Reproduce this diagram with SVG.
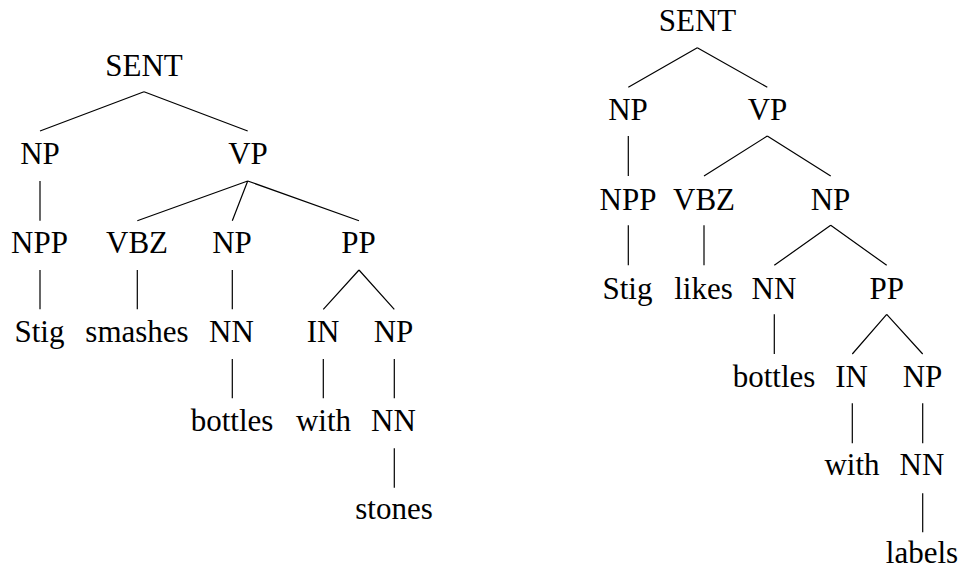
<svg xmlns="http://www.w3.org/2000/svg" width="960" height="569" viewBox="0 0 960 569">
  <style>
    .lbl { font-size: 31px; fill: #000; text-anchor: middle; }
    .edge { stroke: #000; stroke-width: 1.2; fill: none; stroke-linecap: butt; }
  </style>
  <rect width="960" height="569" fill="#fff"/>

  <g font-family="Liberation Serif, DejaVu Serif, serif">
  <!-- Tree 1: Stig smashes bottles with stones -->
  <g id="t1-connectors">
    <path class="edge" d="M144,91.7 L40,131 M144,91.7 L247.7,131"/>
    <path class="edge" d="M40,181 L40,220.7"/>
    <path class="edge" d="M247.7,181 L137.3,220.7 M247.7,181 L232.3,220.7 M247.7,181 L359,220.7"/>
    <path class="edge" d="M40,270 L40,309.3 M137.3,270 L137.3,309.3 M232.3,270 L232.3,309.3"/>
    <path class="edge" d="M359,270 L323.3,309.3 M359,270 L394.3,309.3"/>
    <path class="edge" d="M232.3,359 L232.3,398.3 M323.3,359 L323.3,398.3 M394.3,359 L394.3,398.3"/>
    <path class="edge" d="M394.3,448.3 L394.3,487.7"/>
  </g>
  <g id="t1-sent"><text class="lbl" x="144" y="75.7">SENT</text></g>
  <g id="t1-np"><text class="lbl" x="40" y="164.3">NP</text></g>
  <g id="t1-vp"><text class="lbl" x="248" y="164.3">VP</text></g>
  <g id="t1-npp"><text class="lbl" x="39.5" y="252.7">NPP</text></g>
  <g id="t1-vbz"><text class="lbl" x="137" y="252.7">VBZ</text></g>
  <g id="t1-np2"><text class="lbl" x="232" y="252.7">NP</text></g>
  <g id="t1-pp"><text class="lbl" x="358.5" y="252.7">PP</text></g>
  <g id="t1-stig"><text class="lbl" x="39.5" y="342">Stig</text></g>
  <g id="t1-smashes"><text class="lbl" x="137" y="342">smashes</text></g>
  <g id="t1-nn"><text class="lbl" x="231.5" y="342">NN</text></g>
  <g id="t1-in"><text class="lbl" x="323" y="342">IN</text></g>
  <g id="t1-np3"><text class="lbl" x="393.5" y="342">NP</text></g>
  <g id="t1-bottles"><text class="lbl" x="232" y="430.7">bottles</text></g>
  <g id="t1-with"><text class="lbl" x="323.5" y="430.7">with</text></g>
  <g id="t1-nn2"><text class="lbl" x="393.5" y="430.7">NN</text></g>
  <g id="t1-stones"><text class="lbl" x="394" y="519.3">stones</text></g>

  <!-- Tree 2: Stig likes bottles with labels -->
  <g id="t2-connectors">
    <path class="edge" d="M697.3,47.7 L628.3,87.3 M697.3,47.7 L767.3,87.3"/>
    <path class="edge" d="M628.3,136 L628.3,176"/>
    <path class="edge" d="M767.3,136 L704,176 M767.3,136 L830.7,176"/>
    <path class="edge" d="M628.3,225.3 L628.3,265.3 M704,225.3 L704,265.3"/>
    <path class="edge" d="M830.7,225.3 L774.3,265.3 M830.7,225.3 L886.7,265.3"/>
    <path class="edge" d="M774.3,314.3 L774.3,354"/>
    <path class="edge" d="M886.7,314.3 L852.3,354 M886.7,314.3 L922.7,354"/>
    <path class="edge" d="M852.3,403.3 L852.3,443.3 M922.7,403.3 L922.7,443.3"/>
    <path class="edge" d="M922.7,493.3 L922.7,532.3"/>
  </g>
  <g id="t2-sent"><text class="lbl" x="697.5" y="30.7">SENT</text></g>
  <g id="t2-np"><text class="lbl" x="628" y="120">NP</text></g>
  <g id="t2-vp"><text class="lbl" x="767.5" y="120">VP</text></g>
  <g id="t2-npp"><text class="lbl" x="628" y="210">NPP</text></g>
  <g id="t2-vbz"><text class="lbl" x="704" y="210">VBZ</text></g>
  <g id="t2-np2"><text class="lbl" x="830.5" y="210">NP</text></g>
  <g id="t2-stig"><text class="lbl" x="627.5" y="298.5">Stig</text></g>
  <g id="t2-likes"><text class="lbl" x="703.5" y="298.5">likes</text></g>
  <g id="t2-nn"><text class="lbl" x="774" y="298.5">NN</text></g>
  <g id="t2-pp"><text class="lbl" x="886.7" y="298.5">PP</text></g>
  <g id="t2-bottles"><text class="lbl" x="774" y="386.7">bottles</text></g>
  <g id="t2-in"><text class="lbl" x="851.5" y="386.7">IN</text></g>
  <g id="t2-np3"><text class="lbl" x="922.5" y="386.7">NP</text></g>
  <g id="t2-with"><text class="lbl" x="852" y="475">with</text></g>
  <g id="t2-nn2"><text class="lbl" x="922" y="475">NN</text></g>
  <g id="t2-labels"><text class="lbl" x="922" y="563.3">labels</text></g>
  </g>
</svg>
